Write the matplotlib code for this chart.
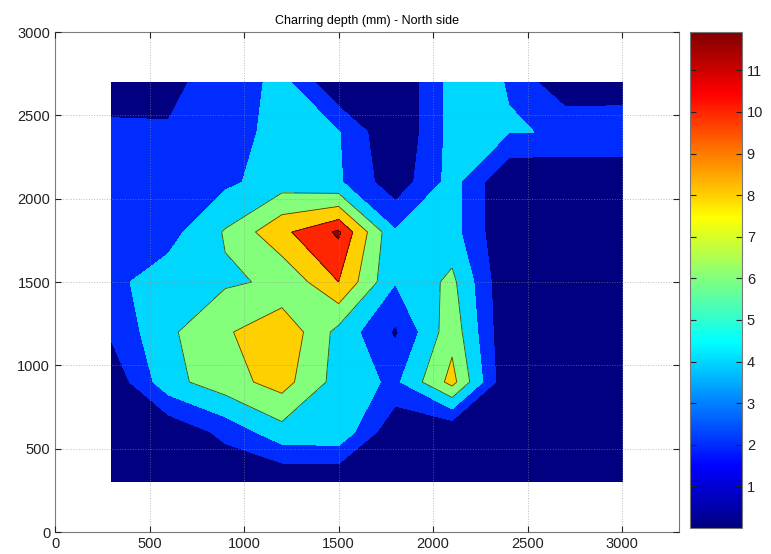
import numpy as np
import matplotlib
matplotlib.use('Agg')
import matplotlib.pyplot as plt
from matplotlib.colors import Normalize, ListedColormap
from matplotlib.cm import ScalarMappable

plt.rcParams['font.family'] = ['Liberation Sans', 'DejaVu Sans']

# measurement grid (mm)
x_pts = [300, 600, 900, 1200, 1500, 1800, 2100, 2400, 2700, 3000]
y_pts = [300, 600, 900, 1200, 1500, 1800, 2100, 2400, 2700]

# charring depth (mm), one row per y value, bottom to top
row_300  = [0.0, 0.0, 0.0, 0.0, 0.0, 0.0, 0.0, 0.0, 0.0, 0.0]
row_600  = [0.0, 0.3, 2.6, 5.27, 5.5, 0.3, 0.0, 0.0, 0.0, 0.0]
row_900  = [0.5, 5.3, 7.2, 8.8, 5.2, 3.56, 8.7, 0.0, 0.0, 0.0]
row_1200 = [2.36, 5.64, 7.72, 9.61, 5.38, 1.7, 7.3, 0.0, 0.0, 0.0]
row_1500 = [3.52, 5.0, 5.74, 6.3, 10.0, 4.1, 6.5, 0.0, 0.0, 0.0]
row_1800 = [2.6, 3.24, 6.18, 9.59, 11.92, 4.2, 4.75, 0.0, 0.0, 0.0]
row_2100 = [2.5, 2.8, 3.57, 5.0, 4.26, 0.69, 4.75, 0.0, 0.0, 0.0]
row_2400 = [2.4, 2.1, 2.73, 5.0, 4.1, 0.0, 4.7, 4.08, 3.9, 3.9]
row_2700 = [1.0, 1.69, 2.58, 4.7, 0.0, 0.0, 4.7, 3.93, 0.1, 0.3]

levels = [0, 2, 4, 6, 8, 10, 11.65, 12]
line_levels = [6, 8, 10, 11.65]
cbar_ticks = list(range(1, 12))

Z = np.array([row_300, row_600, row_900, row_1200, row_1500,
              row_1800, row_2100, row_2400, row_2700])
X, Y = np.meshgrid(x_pts, y_pts)
zmax = Z.max()


def matlab_jet(t):
    t = np.asarray(t, dtype=float)
    r = np.clip(np.minimum(4 * t - 1.5, -4 * t + 4.5), 0, 1)
    g = np.clip(np.minimum(4 * t - 0.5, -4 * t + 3.5), 0, 1)
    b = np.clip(np.minimum(4 * t + 0.5, -4 * t + 2.5), 0, 1)
    return np.stack([r, g, b], axis=-1)


jet_cmap = ListedColormap(matlab_jet((np.arange(256) + 0.5) / 256))

# matlab style: band colour taken at its lower level
band_colors = [tuple(matlab_jet(min(l / zmax, 1.0))) for l in levels[:-1]]

fig = plt.figure(figsize=(7.71, 5.54), dpi=100)
ax = fig.add_axes([55 / 771, 22 / 554, 624 / 771, 500 / 554])
cax = fig.add_axes([690 / 771, 26 / 554, 52 / 771, 496 / 554])

ax.contourf(X, Y, Z, levels=levels, colors=band_colors)
ax.contour(X, Y, Z, levels=line_levels, colors='k', linewidths=0.6, alpha=0.7)

ax.set_xlim(0, 3300)
ax.set_ylim(0, 3000)
ax.set_xticks(np.arange(0, 3001, 500))
ax.set_yticks(np.arange(0, 3001, 500))
ax.grid(True, linestyle=':', color='#909090', linewidth=0.7, alpha=0.6)
ax.set_axisbelow(False)
ax.tick_params(direction='in', length=4, top=True, right=True,
               labelsize=10.5, colors='#222222')
for s in ax.spines.values():
    s.set_color('#777777')
    s.set_linewidth(0.8)

ax.set_title('Charring depth (mm) - North side', fontsize=9, pad=6)

sm = ScalarMappable(norm=Normalize(0, zmax), cmap=jet_cmap)
cb = fig.colorbar(sm, cax=cax, ticks=cbar_ticks)
cax.tick_params(direction='in', length=4, left=True, right=True,
                labelsize=10.5, colors='#222222')
cb.outline.set_edgecolor('#777777')
cb.outline.set_linewidth(0.8)

fig.savefig('out.png', dpi=100)
